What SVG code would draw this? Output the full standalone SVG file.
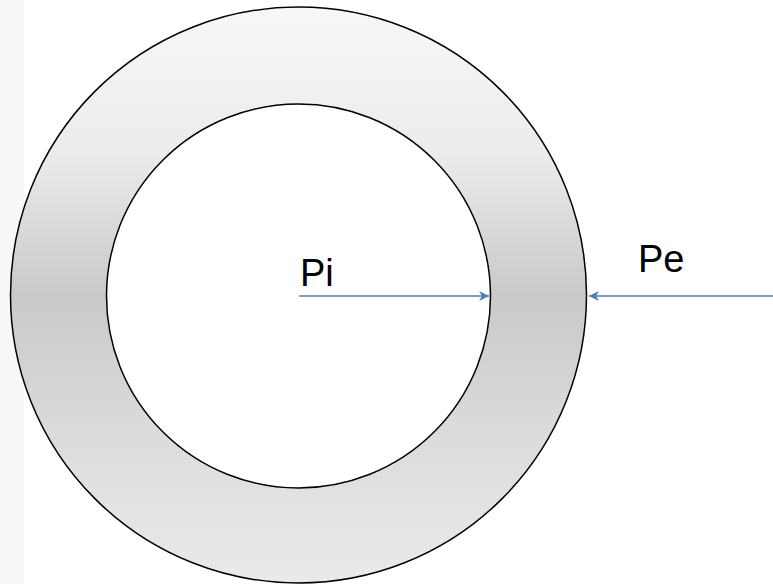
<svg xmlns="http://www.w3.org/2000/svg" width="773" height="584" viewBox="0 0 773 584">
<style>
.lbl{font-family:"Liberation Sans",Arial,sans-serif;font-size:38px;fill:#000}
.arr{stroke:#4a7ebb;stroke-width:1.5;fill:none}
.ring{stroke:#000;stroke-width:1.5}
</style>
<defs>
<linearGradient id="g" x1="0" y1="0" x2="0" y2="1">
<stop offset="0" stop-color="#f7f7f7"/>
<stop offset="0.25" stop-color="#ececec"/>
<stop offset="0.5" stop-color="#c9c9c9"/>
<stop offset="0.75" stop-color="#dcdcdc"/>
<stop offset="1" stop-color="#eaeaea"/>
</linearGradient>
<marker id="ah" markerWidth="12" markerHeight="10" refX="10" refY="5" orient="auto" markerUnits="userSpaceOnUse">
<path d="M0,0 L10,5 L0,10 L3,5 Z" fill="#4a7ebb"/>
</marker>
</defs>
<rect x="0" y="0" width="773" height="584" fill="#fff"/>
<rect x="0" y="0" width="24" height="584" fill="#f8f8f8"/>
<g id="outer"><circle class="ring" cx="298.5" cy="295" r="288" fill="url(#g)"/></g>
<g id="inner"><circle class="ring" cx="298.5" cy="296" r="192" fill="#fff"/></g>
<g id="connectors">
<line class="arr" x1="299" y1="296" x2="489" y2="296" marker-end="url(#ah)"/>
<line class="arr" x1="773" y1="296" x2="589" y2="296" marker-end="url(#ah)"/>
</g>
<g id="labels">
<text class="lbl" x="300" y="286">Pi</text>
<text class="lbl" x="638" y="272">Pe</text>
</g>
</svg>
